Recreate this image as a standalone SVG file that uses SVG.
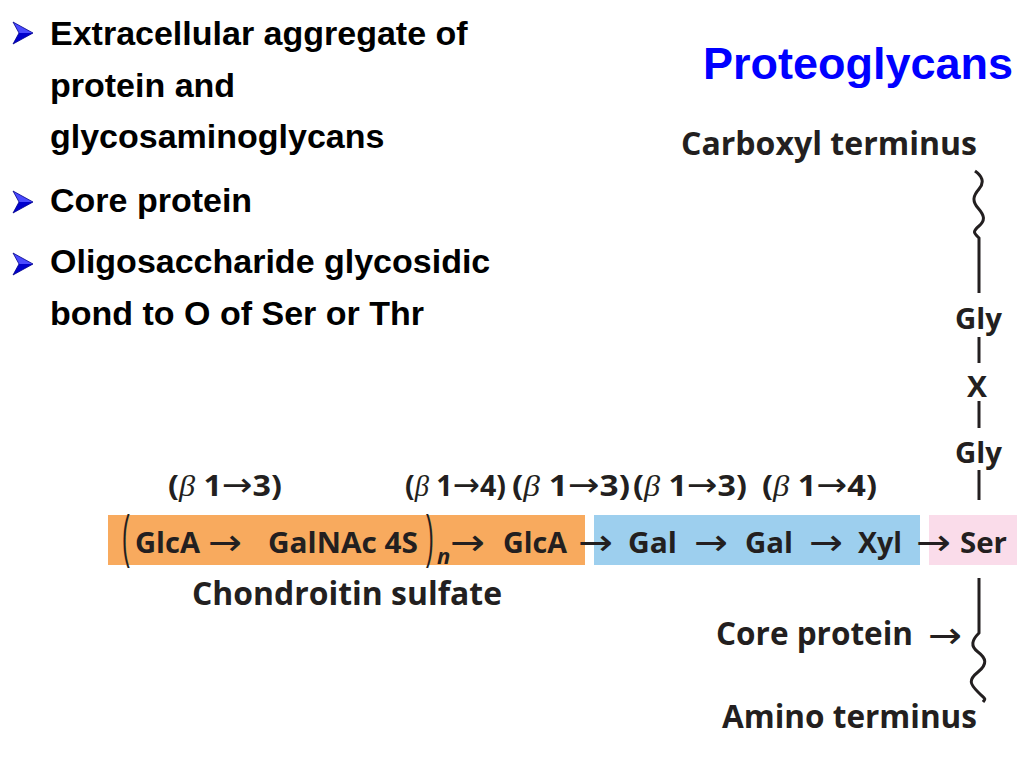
<svg xmlns="http://www.w3.org/2000/svg" width="1024" height="768" viewBox="0 0 1024 768">
<defs>
<style>
.b{font-family:"Liberation Sans",Arial,sans-serif;font-weight:700;font-size:34px;fill:#000}
.t{font-family:"Open Sans","Noto Sans",sans-serif;font-weight:700;fill:#231F20}
.L{font-size:32px}
.bx{font-size:29px}
.bd{font-size:29px}
.ar{font-family:"DejaVu Sans",sans-serif;font-weight:400}
.ab{font-family:"DejaVu Sans",sans-serif;font-weight:400;font-size:37px;fill:#231F20}
.be{font-family:"Liberation Serif",serif;font-style:italic;font-weight:400}
.pr{font-family:"Liberation Sans",sans-serif;font-weight:400;font-size:58px;fill:#231F20}
.ln{fill:none;stroke:#231F20;stroke-width:3}
</style>
<g id="bul">
<polygon points="0,-11 20,0 6,0" fill="#4a4aff"/>
<polygon points="0,11 20,0 6,0" fill="#0000cc"/>
<polygon points="0,-11 20,0 0,11 6,0" fill="none" stroke="#00008a" stroke-width="0.8" stroke-linejoin="round"/>
</g>
</defs>
<rect width="1024" height="768" fill="#fff"/>

<g id="bullets">
<use href="#bul" x="13" y="33"/>
<text class="b" x="50" y="45">Extracellular aggregate of</text>
<text class="b" x="50" y="97">protein and</text>
<text class="b" x="50" y="148">glycosaminoglycans</text>
<use href="#bul" x="13" y="202"/>
<text class="b" x="50" y="212">Core protein</text>
<use href="#bul" x="13" y="264"/>
<text class="b" x="50" y="273">Oligosaccharide glycosidic</text>
<text class="b" x="50" y="325">bond to O of Ser or Thr</text>
</g>

<g id="title">
<text x="703" y="79" textLength="310" lengthAdjust="spacingAndGlyphs" style="font-family:'Liberation Sans',Arial,sans-serif;font-weight:700;font-size:44px;fill:#0000ff">Proteoglycans</text>
</g>

<g id="connectors">
<path class="ln" d="M975,171 C982,176 985,182 979,189 S972,201 978,208 S986,220 979,226 S974,233 979,238 V293"/>
<path class="ln" d="M979,337 V363"/>
<path class="ln" d="M979,401 V428"/>
<path class="ln" d="M979,470 V500"/>
<path class="ln" d="M979,578 V633 C972,640 970,646 978,652 S988,664 978,672 S970,684 978,692 S986,698 983,702"/>
</g>

<g id="node-chondroitin">
<rect x="108" y="515" width="477" height="50" fill="#F8AA5E"/>
<text class="pr" transform="translate(122,556) scale(0.4,1)">(</text>
<text class="t bx" x="135" y="553" textLength="65" lengthAdjust="spacingAndGlyphs">GlcA</text>
<text class="ab" x="208" y="555" textLength="34" lengthAdjust="spacingAndGlyphs">→</text>
<text class="t bx" x="268" y="553" textLength="150" lengthAdjust="spacingAndGlyphs">GalNAc 4S</text>
<text class="pr" transform="translate(426,556) scale(0.4,1)">)</text>
<text class="t" x="437" y="564" style="font-size:22px;font-style:italic">n</text>
<text class="ab" x="450" y="555" textLength="35" lengthAdjust="spacingAndGlyphs">→</text>
<text class="t bx" x="503" y="553" textLength="64" lengthAdjust="spacingAndGlyphs">GlcA</text>
<text class="t L" x="192" y="605" textLength="310" lengthAdjust="spacingAndGlyphs">Chondroitin sulfate</text>
</g>

<g id="node-ser">
<rect x="929" y="515" width="88" height="50" fill="#FADCEA"/>
<text class="t bx" x="960" y="553" textLength="47" lengthAdjust="spacingAndGlyphs">Ser</text>
</g>

<g id="node-linker">
<rect x="594" y="515" width="326" height="50" fill="#9DCFEE"/>
<text class="ab" x="578" y="555" textLength="35" lengthAdjust="spacingAndGlyphs">→</text>
<text class="t bx" x="628" y="553" textLength="49" lengthAdjust="spacingAndGlyphs">Gal</text>
<text class="ab" x="694" y="555" textLength="34" lengthAdjust="spacingAndGlyphs">→</text>
<text class="t bx" x="745" y="553" textLength="48" lengthAdjust="spacingAndGlyphs">Gal</text>
<text class="ab" x="809" y="555" textLength="34" lengthAdjust="spacingAndGlyphs">→</text>
<text class="t bx" x="858" y="553" textLength="44" lengthAdjust="spacingAndGlyphs">Xyl</text>
<text class="ab" x="916" y="555" textLength="35" lengthAdjust="spacingAndGlyphs">→</text>
</g>

<g id="bond-labels">
<text class="t bd" x="168" y="496" textLength="114" lengthAdjust="spacingAndGlyphs">(<tspan class="be">β</tspan> 1<tspan class="ar" style="font-size:33px">→</tspan>3)</text>
<text class="t bd" x="405" y="496" textLength="101" lengthAdjust="spacingAndGlyphs">(<tspan class="be">β</tspan> 1<tspan class="ar" style="font-size:33px">→</tspan>4)</text>
<text class="t bd" x="512" y="496" textLength="118" lengthAdjust="spacingAndGlyphs">(<tspan class="be">β</tspan> 1<tspan class="ar" style="font-size:33px">→</tspan>3)</text>
<text class="t bd" x="633" y="496" textLength="114" lengthAdjust="spacingAndGlyphs">(<tspan class="be">β</tspan> 1<tspan class="ar" style="font-size:33px">→</tspan>3)</text>
<text class="t bd" x="762" y="496" textLength="115" lengthAdjust="spacingAndGlyphs">(<tspan class="be">β</tspan> 1<tspan class="ar" style="font-size:33px">→</tspan>4)</text>
</g>

<g id="node-carboxyl">
<text class="t L" x="681" y="155" textLength="296" lengthAdjust="spacingAndGlyphs">Carboxyl terminus</text>
</g>
<g id="node-gly1">
<text class="t bx" x="955" y="329" textLength="47" lengthAdjust="spacingAndGlyphs">Gly</text>
</g>
<g id="node-x">
<text class="t bx" x="967" y="397" textLength="20" lengthAdjust="spacingAndGlyphs">X</text>
</g>
<g id="node-gly2">
<text class="t bx" x="955" y="463" textLength="47" lengthAdjust="spacingAndGlyphs">Gly</text>
</g>
<g id="node-core">
<text class="t L" x="716" y="645" textLength="197" lengthAdjust="spacingAndGlyphs">Core protein</text>
<text class="ab" x="928" y="648" textLength="34" lengthAdjust="spacingAndGlyphs">→</text>
</g>
<g id="node-amino">
<text class="t L" x="722" y="728" textLength="255" lengthAdjust="spacingAndGlyphs">Amino terminus</text>
</g>
</svg>
